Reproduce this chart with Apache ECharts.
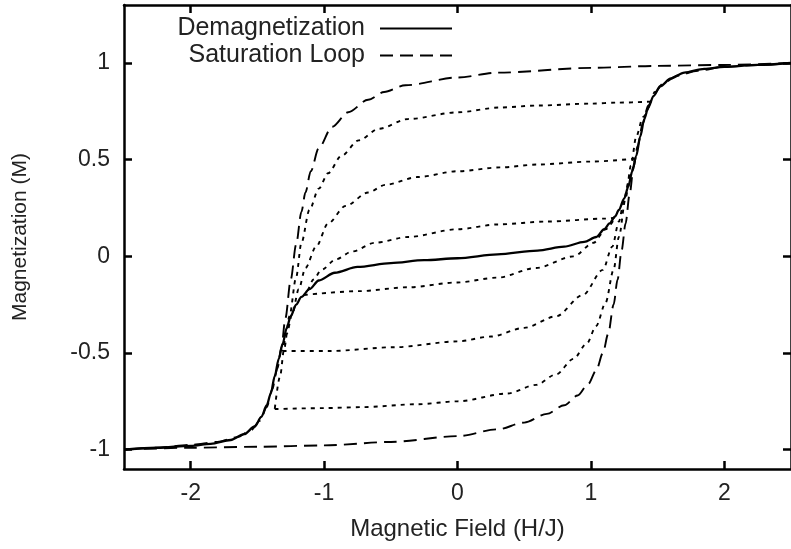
<!DOCTYPE html>
<html>
<head>
<meta charset="utf-8">
<script src="https://cdn.jsdelivr.net/npm/echarts@6/dist/echarts.min.js"></script>
<style>
  html, body { margin:0; padding:0; background:#fff; }
  #chart { width:791px; height:549px; }
</style>
</head>
<body>
<div id="chart"></div>
<script>
// ======== データ ========
const xTicks = [-2, -1, 0, 1, 2];
const yTicks = [-1, -0.5, 0, 0.5, 1];

// 消磁曲線（実線）
const demag = [
  [-2.5,-1.0],[-2.25,-0.99],[-2.0,-0.98],[-1.85,-0.97],[-1.7,-0.95],[-1.6,-0.92],[-1.52,-0.88],
  [-1.47,-0.83],[-1.43,-0.77],[-1.40,-0.71],[-1.37,-0.62],[-1.34,-0.53],[-1.31,-0.45],[-1.28,-0.37],
  [-1.25,-0.31],[-1.21,-0.25],[-1.17,-0.21],[-1.11,-0.17],[-1.04,-0.125],[-0.92,-0.085],[-0.75,-0.055],
  [-0.5,-0.035],[-0.25,-0.02],[0,-0.01],[0.3,0.01],[0.6,0.03],[0.8,0.05],[0.95,0.075],[1.04,0.10],
  [1.1,0.14],[1.14,0.17],[1.18,0.205],[1.21,0.24],[1.25,0.30],[1.28,0.36],[1.31,0.44],[1.34,0.52],
  [1.37,0.62],[1.40,0.71],[1.43,0.77],[1.47,0.83],[1.52,0.88],[1.6,0.92],[1.7,0.95],[1.85,0.97],
  [2.0,0.98],[2.25,0.99],[2.5,1.0]
];

// 飽和ループ（破線）下枝・上枝
const satLower = [
  [-2.5,-1.0],[-2.0,-0.99],[-1.5,-0.985],[-1.0,-0.978],[-0.5,-0.96],[0,-0.93],[0.3,-0.895],
  [0.5,-0.86],[0.67,-0.815],[0.8,-0.77],[0.9,-0.72],[0.98,-0.66],[1.04,-0.59],[1.09,-0.50],
  [1.13,-0.40],[1.17,-0.25],[1.2,-0.12],[1.23,0.03],[1.26,0.17],[1.29,0.32],[1.32,0.46],
  [1.35,0.57],[1.39,0.69],[1.43,0.78],[1.48,0.85],[1.55,0.90],[1.65,0.935],[1.8,0.96],
  [2.0,0.98],[2.25,0.99],[2.5,1.0]
];
const satUpper = [
  [2.5,1.0],[2.0,0.99],[1.5,0.985],[1.0,0.975],[0.3,0.95],[0,0.925],[-0.39,0.885],[-0.55,0.85],
  [-0.67,0.81],[-0.82,0.745],[-0.94,0.67],[-1.04,0.56],[-1.1,0.44],[-1.14,0.33],[-1.17,0.23],
  [-1.21,0.06],[-1.25,-0.12],[-1.29,-0.32],[-1.32,-0.47],[-1.35,-0.58],[-1.39,-0.69],[-1.43,-0.78],
  [-1.48,-0.85],[-1.55,-0.90],[-1.65,-0.935],[-1.8,-0.96],[-2.0,-0.975],[-2.25,-0.99],[-2.5,-1.0]
];

// マイナーループ（点線）振幅 0.8 / 0.5 / 0.2
const loopAUpper = [
  [1.45,0.80],[1.2,0.795],[1.0,0.79],[0.6,0.78],[0.32,0.77],[0,0.745],[-0.37,0.71],[-0.59,0.66],
  [-0.74,0.60],[-0.87,0.52],[-0.97,0.43],[-1.04,0.35],[-1.11,0.24],[-1.17,0.07],[-1.21,-0.11],
  [-1.26,-0.31],[-1.30,-0.48],[-1.33,-0.62],[-1.37,-0.79]
];
const loopALower = [
  [-1.37,-0.79],[-1.0,-0.785],[-0.72,-0.78],[-0.3,-0.765],[0,-0.75],[0.37,-0.71],[0.59,-0.665],
  [0.74,-0.61],[0.87,-0.53],[0.97,-0.45],[1.04,-0.36],[1.11,-0.24],[1.17,-0.07],[1.21,0.10],
  [1.26,0.30],[1.30,0.47],[1.34,0.62],[1.39,0.72],[1.45,0.80]
];
const loopBUpper = [
  [1.33,0.505],[1.0,0.49],[0.6,0.475],[0.32,0.46],[0,0.44],[-0.3,0.41],[-0.54,0.37],[-0.67,0.33],
  [-0.84,0.26],[-0.97,0.17],[-1.06,0.05],[-1.14,-0.06],[-1.19,-0.17],[-1.24,-0.30],[-1.28,-0.40],
  [-1.31,-0.49]
];
const loopBLower = [
  [-1.31,-0.49],[-0.97,-0.49],[-0.47,-0.47],[0,-0.44],[0.25,-0.415],[0.5,-0.37],[0.74,-0.31],
  [0.94,-0.20],[1.09,-0.07],[1.16,0.05],[1.21,0.18],[1.25,0.30],[1.29,0.41],[1.33,0.505]
];
const loopCUpper = [
  [1.18,0.2],[1.11,0.195],[0.67,0.18],[0.3,0.165],[0,0.14],[-0.37,0.10],[-0.62,0.07],[-0.79,0.025],
  [-0.91,-0.015],[-1.02,-0.07],[-1.08,-0.12],[-1.13,-0.18],[-1.15,-0.2]
];
const loopCLower = [
  [-1.15,-0.2],[-0.74,-0.18],[-0.37,-0.16],[0,-0.135],[0.3,-0.11],[0.59,-0.06],[0.87,0.0],
  [1.02,0.07],[1.11,0.14],[1.18,0.2]
];

// ======== 描画 ========
const FONT = 'Liberation Sans, Arial, sans-serif';
const INK = '#000';
const TXT = '#222';
const chart = echarts.init(document.getElementById('chart'), null, { renderer:'canvas' });

function boxAxis(extra){
  return Object.assign({
    type:'value',
    axisLine:{ show:true, onZero:false, lineStyle:{ color:INK, width:2.5 } },
    splitLine:{ show:false }
  }, extra);
}
function ticks(vals){
  return { show:true, inside:true, length:8, customValues:vals, lineStyle:{ color:INK, width:2.5 } };
}

function curve(name, data, dash, width){
  return {
    name, type:'line', data, symbol:'none', showSymbol:false,
    smooth:0.3, smoothMonotone:'x', animation:false, silent:true,
    lineStyle:{ color:INK, width:width || 1.9, type:dash },
    itemStyle:{ color:INK }
  };
}

const dotted = [4, 5];
const longDash = [13, 7];

const legendBase = {
  right:333, align:'right', itemWidth:72, itemHeight:2,
  itemStyle:{ opacity:0 },
  textStyle:{ fontSize:25, color:TXT, fontFamily:FONT, padding:[0,10,0,0] }
};

chart.setOption({
  animation:false,
  backgroundColor:'#fff',
  textStyle:{ fontFamily:FONT },
  grid:{ left:124, right:-7, top:5, bottom:80 },
  legend:[
    Object.assign({ data:['Demagnetization'], top:11 }, legendBase),
    Object.assign({ data:['Saturation Loop'], top:38 }, legendBase)
  ],
  xAxis:[
    boxAxis({ min:-2.5, max:2.5, position:'bottom', axisTick:ticks(xTicks),
      axisLabel:{ customValues:xTicks, fontSize:23, margin:13, color:TXT, fontFamily:FONT },
      name:'Magnetic Field (H/J)', nameLocation:'middle', nameGap:48,
      nameTextStyle:{ fontSize:24, color:TXT, fontFamily:FONT } }),
    boxAxis({ min:-2.5, max:2.5, position:'top', axisTick:ticks(xTicks), axisLabel:{ show:false } })
  ],
  yAxis:[
    boxAxis({ min:-1.1, max:1.3, position:'left', axisTick:ticks(yTicks),
      axisLabel:{ customValues:yTicks, fontSize:23, margin:14, color:TXT, fontFamily:FONT },
      name:'Magnetization (M)', nameLocation:'middle', nameGap:93,
      nameTextStyle:{ fontSize:21, color:TXT, fontFamily:FONT } }),
    boxAxis({ min:-1.1, max:1.3, position:'right', axisTick:ticks(yTicks), axisLabel:{ show:false } })
  ],
  series:[
    curve('Loop 0.8 upper', loopAUpper, dotted),
    curve('Loop 0.8 lower', loopALower, dotted),
    curve('Loop 0.5 upper', loopBUpper, dotted),
    curve('Loop 0.5 lower', loopBLower, dotted),
    curve('Loop 0.2 upper', loopCUpper, dotted),
    curve('Loop 0.2 lower', loopCLower, dotted),
    curve('Saturation Loop', satLower, longDash),
    curve('Saturation Loop', satUpper, longDash),
    curve('Demagnetization', demag, 'solid', 2.3)
  ]
});
</script>
</body>
</html>
